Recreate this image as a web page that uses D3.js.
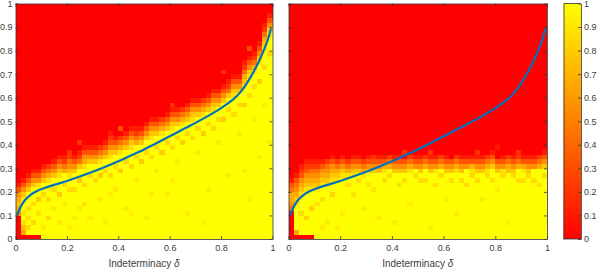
<!DOCTYPE html>
<html><head><meta charset="utf-8">
<script src="https://cdn.jsdelivr.net/npm/d3@7"></script>
<style>html,body{margin:0;padding:0;background:#fff;}svg{display:block;}</style>
</head><body>
<svg id="chart" width="598" height="271"></svg>
<script>
// ---- data ----
const xTicks = [0, 0.2, 0.4, 0.6, 0.8, 1];
const yTicks = [0, 0.1, 0.2, 0.3, 0.4, 0.5, 0.6, 0.7, 0.8, 0.9, 1];
const cbTicks = [0, 0.1, 0.2, 0.3, 0.4, 0.5, 0.6, 0.7, 0.8, 0.9, 1];
const xLabel = "Indeterminacy ";
const gridN = 50;
// Each column (bottom-up): head | number of full-yellow cells | tail ; digits 0..9 = value/9
const leftCols = [
  "00000|0|5676531","0678|4|87531","0|9|7531","0|10|7531","0|10|8531",
  "|12|7531","|11|98642","|13|7531","|12|987531","|14|6421",
  "|13|875421","|13|97531","|15|7421","|14|986531","|16|7531",
  "|15|97531","|16|8642","|17|7531","|16|9875321","|18|7531",
  "|17|98642","|19|7531","|18|987531","|20|6421","|19|97531",
  "|21|7531","|20|987531","|22|7531","|21|98642","|23|7531",
  "|22|987531","|24|7531","|23|98642","|25|7531","|24|987531",
  "|26|7531","|25|98642","|27|7531","|26|987531","|28|7531",
  "|28|97531","|30|7421","|29|987531","|31|7531","|31|9876421",
  "|33|987531","|35|86421","|36|987531","|39|9876421","|42|987531"
];
// [column, row, value]
const leftSpecks = [
  [2,6,0.86],[3,7,0.86],[4,8,0.8],[5,9,0.86],[6,8,0.86],[7,10,0.86],[8,9,0.8],[9,11,0.86],[10,10,0.86],[11,10,0.86],
  [12,12,0.8],[13,11,0.86],[14,13,0.86],[15,12,0.86],[16,13,0.8],[17,14,0.86],[18,13,0.86],[19,15,0.86],[20,14,0.8],[21,16,0.86],
  [22,15,0.86],[23,17,0.86],[24,16,0.8],[25,18,0.86],[26,17,0.86],[27,19,0.86],[28,18,0.8],[29,20,0.86],[30,19,0.86],[31,21,0.86],
  [32,20,0.8],[33,22,0.86],[34,21,0.86],[35,23,0.86],[36,22,0.8],[37,24,0.86],[38,23,0.86],[39,25,0.86],[40,25,0.8],[41,27,0.86],
  [42,26,0.86],[43,28,0.86],[44,28,0.8],[45,30,0.86],[46,32,0.86],[47,33,0.8],[48,36,0.86],[49,39,0.86],
  [3,3,0.85],[4,5,0.9],[5,2,0.92],[6,4,0.86],[7,6,0.92],[8,3,0.92],[9,7,0.92],[10,2,0.93],[12,6,0.92],[14,4,0.93],
  [16,8,0.92],[17,3,0.93],[19,10,0.92],[21,6,0.93],[23,12,0.92],[25,4,0.93],[27,14,0.92],[29,9,0.93],[31,16,0.92],[33,5,0.93],
  [35,18,0.92],[37,10,0.93],[39,20,0.92],[41,13,0.93],[43,22,0.92],[45,8,0.93],[46,25,0.92],[47,17,0.93],[48,28,0.92],[49,20,0.93],
  [44,14,0.93],[36,3,0.94],[30,12,0.93],[26,9,0.93],[22,5,0.94],[18,9,0.93],[13,7,0.88],[11,4,0.93],[2,2,0.85],[1,5,0.9],[2,4,0.88],
  [12,20,0.2],[20,23,0.3],[30,28,0.2],[40,35,0.2],[45,40,0.3],[10,18,0.2]
];
const rightCols = [
  "000000|0|4566431","06|5|8765431","0|8|8765321","0|9|8765321","0|9|8765421",
  "|10|8765421","|11|876531","|11|876542","|12|876531","|12|87642",
  "|13|87531","|13|8642","|13|87531","|14|7531","|13|8642",
  "|14|7531","|13|97531","|14|7531","|14|8631","|15|642",
  "|14|7531","|13|97531","|14|753","|14|8642","|15|531",
  "|14|7531","|14|9642","|13|97531","|14|8531","|15|642",
  "|14|7531","|14|753","|13|98642","|14|7531","|15|531",
  "|14|8631","|14|7531","|13|97531","|14|8642","|15|7531",
  "|14|753","|14|8531","|13|97642","|14|7531","|15|642",
  "|14|8631","|14|7531","|15|531","|14|9642","|15|7531"
];
const rightSpecks = [
  [3,4,0.82],[5,7,0.88],[7,3,0.92],[10,5,0.92],[20,3,0.93],[30,8,0.93],[40,10,0.92],[45,12,0.88],[25,12,0.88],[35,13,0.86],
  [15,11,0.88],[12,9,0.9],[18,12,0.87],[22,12,0.87],[28,11,0.88],[33,12,0.87],[38,13,0.86],[43,13,0.86],[47,12,0.87],[9,2,0.93],
  [2,5,0.86],[4,6,0.82],[6,8,0.88],[8,9,0.84],[11,11,0.88],[13,12,0.87],[16,10,0.9],[19,13,0.86],[21,11,0.88],[24,13,0.86],
  [26,12,0.87],[29,13,0.86],[31,12,0.87],[34,11,0.88],[36,12,0.87],[39,12,0.87],[41,13,0.86],[44,12,0.87],[46,13,0.86],[48,11,0.88],
  [49,13,0.86],[14,6,0.93],[17,4,0.93],[23,7,0.93],[27,2,0.94],[32,5,0.93],[37,8,0.93],[42,3,0.94],[6,2,0.92],
  [27,18,0.2],[36,18,0.2],[44,18,0.2],[16,17,0.2],[22,18,0.2],[40,19,0.1]
];
const curveX = [0.008,0.015,0.025,0.04,0.06,0.08,0.1,0.15,0.2,0.25,0.3,0.35,0.4,0.45,0.5,0.55,0.6,0.65,0.7,0.75,0.8,0.85,0.875,0.9,0.925,0.95,0.97,0.985,0.993];
const curveY = [0.105,0.125,0.148,0.17,0.19,0.202,0.212,0.23,0.246,0.265,0.285,0.307,0.33,0.355,0.38,0.408,0.436,0.465,0.493,0.522,0.555,0.593,0.622,0.66,0.705,0.76,0.81,0.855,0.89];

// ---- build grids ----
function buildGrid(cols, specks) {
  const cells = [];
  cols.forEach((s, c) => {
    const [head, n, tail] = s.split("|");
    const digits = head + "9".repeat(+n) + tail;
    for (let r = 0; r < gridN; r++) {
      const d = r < digits.length ? +digits[r] : 0;
      cells.push({c, r, v: d / 9});
    }
  });
  specks.forEach(([c, r, v]) => { cells[c * gridN + r].v = v; });
  return cells;
}

const svg = d3.select("#chart");
const color = d3.scaleLinear().domain([0, 1]).range(["#ff0000", "#ffff00"]);
const yTop = 3.5, yBottom = 239;
const y = d3.scaleLinear().domain([0, 1]).range([yBottom, yTop]);
const axisColor = "#333";
const font = "Liberation Sans, Arial, sans-serif";

const panels = [
  {x0: 15.5, x1: 272.5, cols: leftCols, specks: leftSpecks, yLabels: true},
  {x0: 288.5, x1: 547, cols: rightCols, specks: rightSpecks, yLabels: false}
];

function styleAxis(a) {
  a.selectAll("path.domain").attr("stroke", axisColor).attr("stroke-width", 0.8);
  a.selectAll("line").attr("stroke", axisColor).attr("stroke-width", 0.8);
  a.selectAll("text").attr("fill", "#404040").style("font-family", font).style("font-size", "9px");
}

panels.forEach((p, i) => {
  const x = d3.scaleLinear().domain([0, 1]).range([p.x0, p.x1]);
  const g = svg.append("g");
  const cells = buildGrid(p.cols, p.specks);
  const step = 1 / gridN;
  g.append("g").selectAll("rect").data(cells).join("rect")
    .attr("x", d => x(d.c * step))
    .attr("y", d => y((d.r + 1) * step))
    .attr("width", d => x((d.c + 1) * step) - x(d.c * step) + 0.3)
    .attr("height", d => y(d.r * step) - y((d.r + 1) * step) + 0.3)
    .attr("fill", d => color(d.v))
    .attr("shape-rendering", "crispEdges");

  const clipId = "clip" + i;
  svg.append("clipPath").attr("id", clipId).append("rect")
    .attr("x", p.x0).attr("y", yTop).attr("width", p.x1 - p.x0).attr("height", yBottom - yTop);
  const line = d3.line().x(d => x(d[0])).y(d => y(d[1])).curve(d3.curveBasis);
  g.append("path").datum(curveX.map((v, k) => [v, curveY[k]]))
    .attr("d", line).attr("fill", "none").attr("stroke", "#0072BD")
    .attr("stroke-width", 2.2).attr("stroke-linecap", "round")
    .attr("clip-path", `url(#${clipId})`);

  const ab = g.append("g").attr("transform", `translate(0,${yBottom})`)
    .call(d3.axisBottom(x).tickValues(xTicks).tickFormat(d => d3.format("")(d)).tickSizeInner(-3).tickSizeOuter(0).tickPadding(6));
  const at = g.append("g").attr("transform", `translate(0,${yTop})`)
    .call(d3.axisTop(x).tickValues(xTicks).tickFormat("").tickSizeInner(-3).tickSizeOuter(0));
  const al = g.append("g").attr("transform", `translate(${p.x0},0)`)
    .call(d3.axisLeft(y).tickValues(yTicks).tickFormat(p.yLabels ? (d => d3.format("")(d)) : "").tickSizeInner(-3).tickSizeOuter(0).tickPadding(3));
  const ar = g.append("g").attr("transform", `translate(${p.x1},0)`)
    .call(d3.axisRight(y).tickValues(yTicks).tickFormat("").tickSizeInner(-3).tickSizeOuter(0));
  [ab, at, al, ar].forEach(styleAxis);
  const t = g.append("text").attr("x", (p.x0 + p.x1) / 2).attr("y", 267)
    .attr("text-anchor", "middle").attr("fill", "#404040")
    .style("font-family", font).style("font-size", "10px");
  t.append("tspan").text(xLabel);
  t.append("tspan").attr("font-style", "italic").text("δ");
});

// ---- colorbar ----
const cb = {x0: 563.5, x1: 581};
const defs = svg.append("defs");
const grad = defs.append("linearGradient").attr("id", "cbgrad")
  .attr("x1", 0).attr("y1", 1).attr("x2", 0).attr("y2", 0);
grad.selectAll("stop").data([0, 1]).join("stop")
  .attr("offset", d => d).attr("stop-color", d => color(d));
svg.append("rect").attr("x", cb.x0).attr("y", yTop).attr("width", cb.x1 - cb.x0).attr("height", yBottom - yTop)
  .attr("fill", "url(#cbgrad)");
const cbr = svg.append("g").attr("transform", `translate(${cb.x1},0)`)
  .call(d3.axisRight(y).tickValues(cbTicks).tickFormat(d => d3.format("")(d)).tickSizeInner(-3).tickSizeOuter(0).tickPadding(3));
const cbl = svg.append("g").attr("transform", `translate(${cb.x0},0)`)
  .call(d3.axisLeft(y).tickValues(cbTicks).tickFormat("").tickSizeInner(0).tickSizeOuter(0));
svg.append("line").attr("x1", cb.x0).attr("x2", cb.x1).attr("y1", yTop).attr("y2", yTop).attr("stroke", axisColor).attr("stroke-width", 0.8);
svg.append("line").attr("x1", cb.x0).attr("x2", cb.x1).attr("y1", yBottom).attr("y2", yBottom).attr("stroke", axisColor).attr("stroke-width", 0.8);
[cbr, cbl].forEach(styleAxis);
</script>
</body></html>
